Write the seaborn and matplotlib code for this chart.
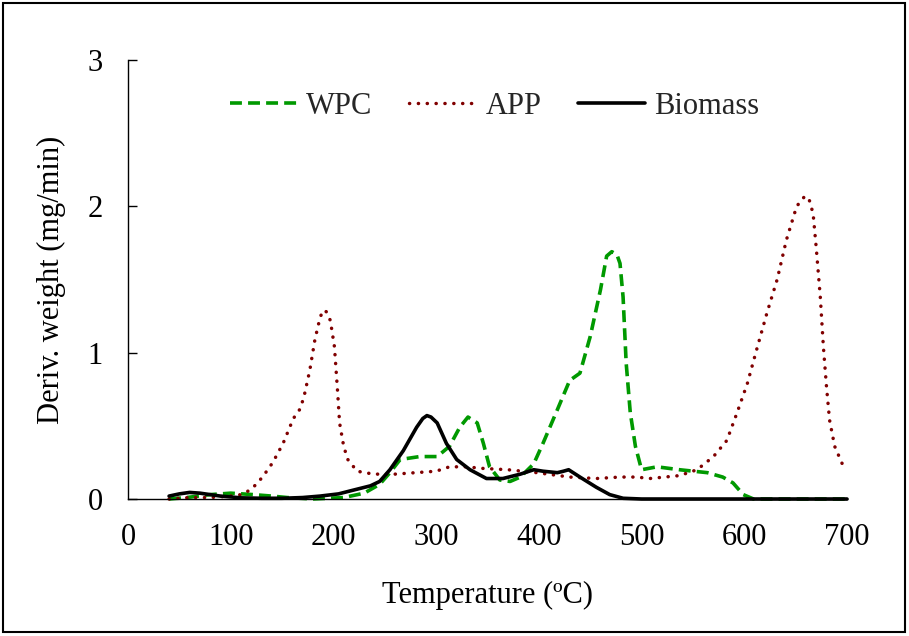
import numpy as np
import pandas as pd
import matplotlib
matplotlib.use("Agg")
import matplotlib.pyplot as plt
import seaborn as sns
from matplotlib.patches import Rectangle

# DTG curves (temperature in ºC, mg/min)
wpc_temp = [40, 57, 80, 100, 122, 140, 155, 180, 210, 230, 245, 255, 265, 284, 301, 313, 323, 331, 340,
            346, 352, 362, 372, 382, 395, 404, 418, 430, 440, 450, 460, 466, 471, 476, 479, 482, 485,
            489, 494, 500, 515, 537, 564, 579, 589, 599, 609, 650, 700]
wpc_dtg = [0.0, 0.01, 0.03, 0.04, 0.03, 0.02, 0.01, 0.0, 0.01, 0.04, 0.1, 0.18, 0.27, 0.29, 0.29, 0.36,
           0.49, 0.56, 0.52, 0.38, 0.22, 0.13, 0.12, 0.15, 0.24, 0.38, 0.61, 0.81, 0.86, 1.11, 1.43,
           1.66, 1.69, 1.67, 1.61, 1.38, 0.93, 0.59, 0.36, 0.2, 0.22, 0.2, 0.18, 0.15, 0.11, 0.03, 0.0,
           0.0, 0.0]

app_temp = [40, 60, 80, 100, 110, 116, 122, 131, 141, 151, 161, 168, 172, 177, 182, 187, 190, 193, 197,
            201, 204, 206, 210, 214, 223, 239, 260, 280, 300, 313, 330, 343, 370, 398, 430, 456, 479,
            495, 508, 537, 554, 570, 583, 593, 603, 612, 622, 632, 641, 651, 659, 663, 667, 670, 674,
            677, 680, 683, 688, 696, 700]
app_dtg = [0.0, 0.01, 0.01, 0.02, 0.03, 0.05, 0.08, 0.15, 0.25, 0.38, 0.55, 0.62, 0.72, 0.88, 1.09, 1.24,
           1.29, 1.28, 1.22, 1.04, 0.74, 0.52, 0.36, 0.27, 0.19, 0.17, 0.17, 0.18, 0.19, 0.22, 0.22,
           0.21, 0.2, 0.18, 0.15, 0.14, 0.15, 0.15, 0.14, 0.16, 0.2, 0.29, 0.4, 0.59, 0.79, 1.02, 1.27,
           1.5, 1.77, 2.0, 2.07, 2.05, 1.95, 1.72, 1.38, 1.04, 0.77, 0.54, 0.36, 0.23, 0.2]

bio_temp = [40, 50, 60, 70, 90, 110, 130, 150, 170, 187, 205, 219, 236, 245, 255, 268, 281, 287, 291,
            295, 301, 310, 320, 333, 349, 365, 382, 395, 404, 418, 424, 429, 440, 456, 469, 482, 500,
            600, 700]
bio_dtg = [0.02, 0.035, 0.045, 0.04, 0.02, 0.008, 0.005, 0.005, 0.01, 0.02, 0.035, 0.06, 0.09, 0.12,
           0.2, 0.33, 0.49, 0.55, 0.57, 0.56, 0.52, 0.38, 0.27, 0.2, 0.14, 0.14, 0.17, 0.2, 0.19, 0.18,
           0.19, 0.2, 0.15, 0.08, 0.03, 0.005, 0.0, 0.0, 0.0]

x_ticks = [0, 100, 200, 300, 400, 500, 600, 700]
y_ticks = [0, 1, 2, 3]

sns.set_style("white")
plt.rcParams['font.family'] = ['Liberation Serif', 'DejaVu Serif']
plt.rcParams['font.size'] = 22

fig = plt.figure(figsize=(9.09, 6.36), dpi=100)
ax = fig.add_axes([0.1408, 0.2154, 0.791, 0.6903])

sns.lineplot(x=wpc_temp, y=wpc_dtg, ax=ax, color='#009900', lw=2.6, label='WPC',
             linestyle=(0, (3.3, 1.7)), clip_on=False)
sns.lineplot(x=app_temp, y=app_dtg, ax=ax, color='#800000', lw=2.5, label='APP',
             linestyle=(0, (0.05, 2.5)), dash_capstyle='round', clip_on=False)
sns.lineplot(x=bio_temp, y=bio_dtg, ax=ax, color='black', lw=2.6, label='Biomass', clip_on=False)

ax.set_xlim(0, 700)
ax.set_ylim(0, 3)
ax.set_xticks(x_ticks)
ax.set_yticks(y_ticks)

for side in ['top', 'right']:
    ax.spines[side].set_visible(False)
for side in ['left', 'bottom']:
    ax.spines[side].set_color('black')
    ax.spines[side].set_linewidth(1.0)

ax.tick_params(axis='y', left=True, direction='in', length=6.5, width=1, pad=18, colors='black')
ax.tick_params(axis='x', bottom=False, length=0, pad=17, colors='black')

ax.set_xlabel('Temperature (ºC)', labelpad=21, color='black')
ax.set_ylabel('Deriv. weight (mg/min)', labelpad=16, color='black')

ax.legend(loc='center', bbox_to_anchor=(0.51, 0.895), ncol=3, frameon=False,
          handlelength=2.2, handletextpad=0.3, columnspacing=1.2, fontsize=22)

fig.add_artist(Rectangle((0.0033, 0.0063), 0.9923, 0.989, transform=fig.transFigure,
                         fill=False, lw=1.5, ec='black'))

fig.savefig('out.png', dpi=100)
